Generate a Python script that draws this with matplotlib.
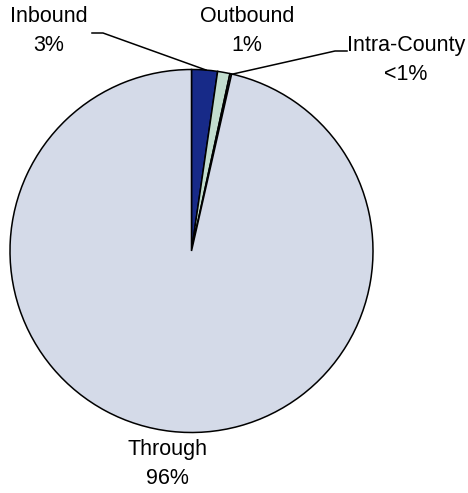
import matplotlib
matplotlib.use("Agg")
import matplotlib.pyplot as plt

# Trip type shares (percent)
categories = ["Inbound", "Outbound", "Intra-County", "Through"]
shares = [2.3, 1.1, 0.15, 96.45]
share_labels = ["3%", "1%", "<1%", "96%"]
colors = ["#172A88", "#C2DDCE", "#E4EAF0", "#D4DAE8"]

plt.rcParams['font.family'] = ['Liberation Sans', 'DejaVu Sans']

W, H = 468, 493
fig = plt.figure(figsize=(W / 100, H / 100), dpi=100)
ax = fig.add_axes([0, 0, 1, 1])

# work in pixel coordinates, y measured from the bottom
cx, cy, r = 191.5, H - 251, 181.5
ax.pie(shares, colors=colors, startangle=90, counterclock=False,
       center=(cx, cy), radius=r,
       wedgeprops=dict(edgecolor='black', linewidth=1.1))

fs = 15.5
ls = 1.45
# labels
ax.text(49, H - 31, f"{categories[0]}\n{share_labels[0]}", ha='center', va='center',
        fontsize=fs, linespacing=ls)
ax.text(247, H - 31, f"{categories[1]}\n{share_labels[1]}", ha='center', va='center',
        fontsize=fs, linespacing=ls)
ax.text(406, H - 60, f"{categories[2]}\n{share_labels[2]}", ha='center', va='center',
        fontsize=fs, linespacing=ls)
ax.text(167, H - 464, f"{categories[3]}\n{share_labels[3]}", ha='center', va='center',
        fontsize=fs, linespacing=ls)

# leader lines
ax.plot([92, 103, 206], [H - 33, H - 33, H - 70], color='black', lw=1.1)
ax.plot([233, 335, 347], [H - 74, H - 51, H - 51], color='black', lw=1.1)

ax.set_xlim(0, W)
ax.set_ylim(0, H)
ax.set_aspect('equal')
ax.axis('off')

fig.savefig("out.png", dpi=100)
